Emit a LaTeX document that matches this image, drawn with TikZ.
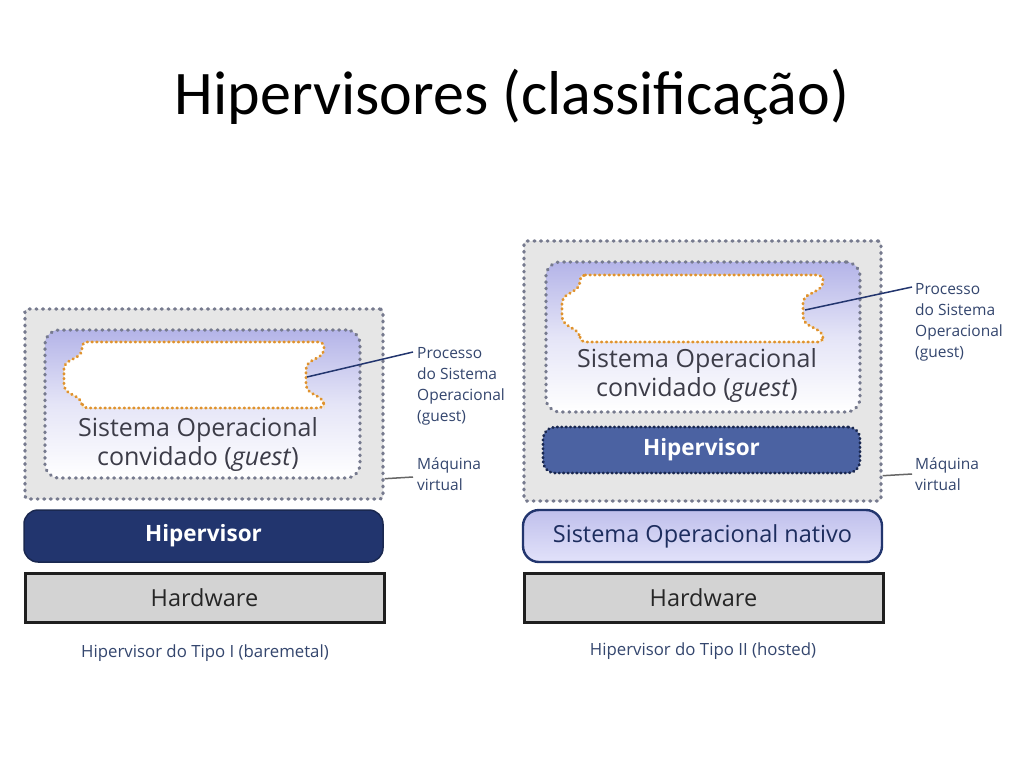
\documentclass[tikz,border=0pt]{standalone}
\usepackage{fontspec}
\setmainfont{Carlito}
\newfontfamily\dfont{Open Sans}
\usetikzlibrary{calc}
\definecolor{navy}{HTML}{22356E}
\definecolor{navyline}{HTML}{1A2850}
\definecolor{hypblue}{HTML}{4B62A2}
\definecolor{dotgray}{HTML}{767A8E}
\definecolor{vmgray}{HTML}{E6E6E6}
\definecolor{lav}{HTML}{B4B4E8}
\definecolor{lavlight}{HTML}{E2E2FA}
\definecolor{procorange}{HTML}{E0922E}
\definecolor{procpale}{HTML}{F6E2B8}
\definecolor{lbl}{HTML}{34466E}
\definecolor{guesttxt}{HTML}{3C3C48}
\definecolor{hwfill}{HTML}{D3D3D3}
\begin{document}
\begin{tikzpicture}[x=1pt,y=-1pt,
  vmbox/.style={draw=dotgray, line width=3.4pt, dash pattern=on 0.8pt off 5.8pt, line cap=round, fill=vmgray, rounded corners=3pt, inner sep=0pt},
  guestbox/.style={draw=dotgray, line width=3.2pt, dash pattern=on 0.8pt off 5.6pt, line cap=round, top color=lav, bottom color=white, middle color=lav!35, rounded corners=14pt, inner sep=0pt},
  proc/.style={preaction={draw=procpale, line width=1.4pt}, draw=procorange, line width=2.9pt, dash pattern=on 0.6pt off 4.2pt, line cap=round, fill=white, rounded corners=5pt},
  hypL/.style={draw=navyline, line width=1.5pt, fill=navy, rounded corners=14pt, inner sep=0pt, text=white, font=\dfont\bfseries\fontsize{22.5}{27}\selectfont},
  hypR/.style={draw=navyline, line width=2.8pt, dash pattern=on 0.6pt off 3.8pt, line cap=round, fill=hypblue, rounded corners=12pt, inner sep=0pt, text=white, font=\dfont\bfseries\fontsize{22.5}{27}\selectfont},
  nativo/.style={draw=navy, line width=2.4pt, top color=lav!85, bottom color=lavlight, rounded corners=16pt, inner sep=0pt, text=navy!85!black, font=\dfont\fontsize{23.5}{28}\selectfont},
  hwbox/.style={draw=black!88, line width=3pt, fill=hwfill, inner sep=0pt, text=black!85, font=\dfont\fontsize{23.5}{28}\selectfont},
  guesttext/.style={text=guesttxt, align=center, font=\dfont\fontsize{25}{29}\selectfont},
  sidelbl/.style={text=lbl, align=left, anchor=north west, inner sep=0pt, font=\dfont\fontsize{15.5}{21}\selectfont},
  caption/.style={text=lbl, font=\dfont\fontsize{16.8}{20}\selectfont},
  leader/.style={draw=navy, line width=1.5pt},
  leadergray/.style={draw=black!60, line width=1.5pt}
]
\useasboundingbox[fill=white] (0,0) rectangle (1024,768);

% Title
\node[font=\fontsize{62}{70}\selectfont, text=black] (title) at (512,97) {Hipervisores (classificação)};

% ===== Left: Type I =====
\node[vmbox, minimum width=358pt, minimum height=190pt] (vmL) at (204,404) {};
\node[guestbox, minimum width=315pt, minimum height=148pt] (guestL) at (202.5,404) {};
\draw[proc] (82,342) -- (324,342) -- (324,354) -- (306,364) -- (306,390) -- (324,400) -- (324,408) -- (82,408) -- (82,400) -- (64,390) -- (64,364) -- (82,354) -- cycle;
\coordinate (pL) at (307,377);
\node[guesttext] (gtL) at (198,444) {Sistema Operacional\\convidado (\textit{guest})};
\node[hypL, minimum width=359pt, minimum height=52pt] (hypLnode) at (203.5,536) {Hipervisor};
\node[hwbox, minimum width=359pt, minimum height=49pt] (hwL) at (204.5,597.5) {Hardware};
\node[caption] (capL) at (205,653) {Hipervisor do Tipo I (baremetal)};

\node[sidelbl] (procL) at (417,347) {Processo\\do Sistema\\Operacional\\(guest)};
\node[sidelbl] (mqL) at (417,457) {Máquina\\virtual};
\coordinate (pLend) at (413,352);
\coordinate (mLstart) at ($(vmL.south east)+(0,-22)$);
\coordinate (mLend) at (413,477);
\draw[leader] (pL) -- (pLend);
\draw[leadergray] (mLstart) -- (mLend);

% ===== Right: Type II =====
\node[vmbox, minimum width=357pt, minimum height=260pt] (vmR) at (702.5,371) {};
\node[guestbox, minimum width=314pt, minimum height=150pt] (guestR) at (703,337) {};
\draw[proc] (580,275) -- (823,275) -- (823,287) -- (803,298) -- (803,322) -- (823,333) -- (823,342) -- (580,342) -- (580,333) -- (562,322) -- (562,298) -- (580,287) -- cycle;
\coordinate (pR) at (805,310);
\node[guesttext] (gtR) at (697,376) {Sistema Operacional\\convidado (\textit{guest})};
\node[hypR, minimum width=317pt, minimum height=46pt] (hypRnode) at (701.5,450) {Hipervisor};
\node[nativo, minimum width=359pt, minimum height=52pt] (natR) at (702.5,536) {Sistema Operacional nativo};
\node[hwbox, minimum width=359pt, minimum height=49pt] (hwR) at (703.5,597.5) {Hardware};
\node[caption] (capR) at (703,651) {Hipervisor do Tipo II (hosted)};

\node[sidelbl] (procR) at (915,283) {Processo\\do Sistema\\Operacional\\(guest)};
\node[sidelbl] (mqR) at (915,457) {Máquina\\virtual};
\coordinate (pRend) at (912,287);
\coordinate (mRstart) at ($(vmR.south east)+(0,-27)$);
\coordinate (mRend) at (912,474);
\draw[leader] (pR) -- (pRend);
\draw[leadergray] (mRstart) -- (mRend);
\end{tikzpicture}
\end{document}
